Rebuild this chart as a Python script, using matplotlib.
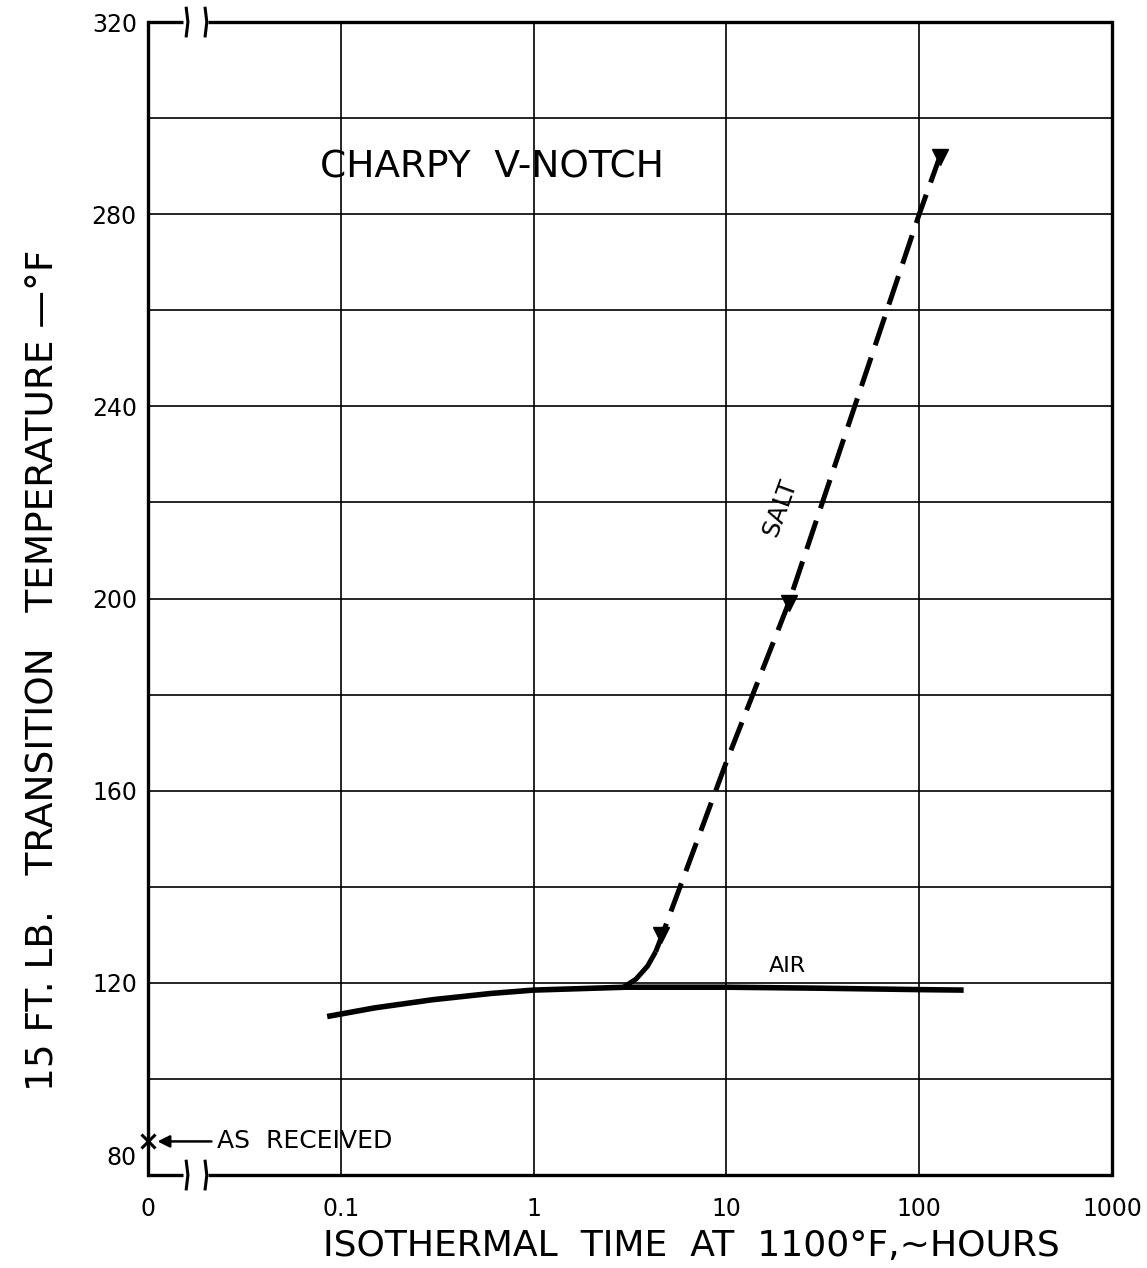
import numpy as np
import matplotlib
matplotlib.use("Agg")
import matplotlib.pyplot as plt
from matplotlib.transforms import blended_transform_factory


# =========================
# Data
# =========================

# air curve (hours, deg F)
air_time = [0.085, 0.15, 0.3, 0.6, 1.0, 3.0, 10.0, 30.0, 100.0, 170.0]
air_temp = [113.0, 114.8, 116.5, 117.8, 118.5, 119.1, 119.1, 118.9, 118.6, 118.5]

# salt curve: solid start off the air line, then dashed
salt_start_time = [2.9, 3.4, 3.9, 4.3]
salt_start_temp = [119.0, 120.8, 123.5, 126.5]
salt_time = [4.3, 4.6, 10.0, 21.0, 100.0, 128.0]
salt_temp = [126.5, 129.5, 166.0, 199.0, 280.0, 292.0]

# triangle points on the salt curve
salt_pt_time = [4.6, 21.0, 128.0]
salt_pt_temp = [130.0, 199.0, 292.0]

# as-received value, plotted at time "0"
as_received_temp = 87.0

x_ticks = [0.01, 0.1, 1, 10, 100, 1000]
x_tick_labels = ["0", "0.1", "1", "10", "100", "1000"]
y_grid = [100, 120, 140, 160, 180, 200, 220, 240, 260, 280, 300]
y_tick_vals = [120, 160, 200, 240, 280, 320]


# =========================
# Figure
# =========================

fig = plt.figure(figsize=(11.47, 12.68), dpi=100)
ax = fig.add_axes([0.129, 0.0733, 0.8405, 0.9093])

ax.set_xscale("log")
ax.set_xlim(0.01, 1000)
ax.set_ylim(80, 320)

# grid
for t in [0.1, 1, 10, 100]:
    ax.axvline(t, color="black", lw=1.2, zorder=1)
for v in y_grid:
    ax.axhline(v, color="black", lw=1.2, zorder=1)

# spines: left/right normal, top/bottom drawn by hand with breaks
for side in ["left", "right"]:
    ax.spines[side].set_linewidth(2.4)
ax.spines["top"].set_visible(False)
ax.spines["bottom"].set_visible(False)

tr = blended_transform_factory(ax.transData, ax.transAxes)
for yy in [0, 1]:
    ax.plot([0.01, 0.0152], [yy, yy], color="black", lw=2.4,
            transform=tr, clip_on=False, solid_capstyle="butt")
    ax.plot([0.0205, 1000], [yy, yy], color="black", lw=2.4,
            transform=tr, clip_on=False, solid_capstyle="butt")
    for xb in [0.0158, 0.0198]:
        ax.plot([xb, xb * 1.02, xb], [yy - 0.012, yy, yy + 0.012],
                color="black", lw=2.2, transform=tr, clip_on=False)

# curves
ax.plot(air_time, air_temp, color="black", lw=4.0,
        solid_capstyle="butt", zorder=3)
ax.plot(salt_start_time, salt_start_temp, color="black", lw=3.6,
        solid_capstyle="butt", zorder=3)
ax.plot(salt_time, salt_temp, color="black", lw=3.6,
        linestyle=(0, (6, 2.6)), zorder=3)
ax.plot(salt_pt_time, salt_pt_temp, linestyle="none", marker="v",
        markersize=12, color="black", zorder=4)

# as received
ax.plot([0.01], [as_received_temp], marker="x", color="black",
        markersize=10, mew=2.2, clip_on=False, zorder=5)
ax.annotate("AS  RECEIVED", xy=(0.0112, as_received_temp),
            xytext=(0.0228, as_received_temp),
            fontsize=18, va="center", ha="left",
            arrowprops=dict(arrowstyle="-|>", color="black", lw=1.8,
                            mutation_scale=18, shrinkA=2, shrinkB=0))

# texts
ax.text(0.61, 289.8, "CHARPY  V-NOTCH", fontsize=27, ha="center", va="center")
ax.text(19.0, 219.0, "SALT", fontsize=18, ha="center", va="center",
        rotation=70)
ax.text(20.6, 123.5, "AIR", fontsize=16, ha="center", va="center")

# ticks
ax.set_xticks(x_ticks)
ax.set_xticklabels(x_tick_labels)
ax.xaxis.set_minor_locator(matplotlib.ticker.NullLocator())
ax.set_yticks(y_tick_vals)
ax.tick_params(axis="both", length=0, labelsize=17)
ax.tick_params(axis="x", pad=16)
ax.tick_params(axis="y", pad=8)
ax.text(-0.012, 83.5, "80", transform=blended_transform_factory(ax.transAxes, ax.transData),
        fontsize=17, ha="right", va="center")

ax.set_xlabel("ISOTHERMAL  TIME  AT  1100°F,~HOURS", fontsize=26)
ax.xaxis.set_label_coords(0.564, -0.047)
ax.set_ylabel("15 FT. LB.   TRANSITION   TEMPERATURE —°F", fontsize=27)
ax.yaxis.set_label_coords(-0.09, 0.438)

fig.savefig("out.png", dpi=100)
